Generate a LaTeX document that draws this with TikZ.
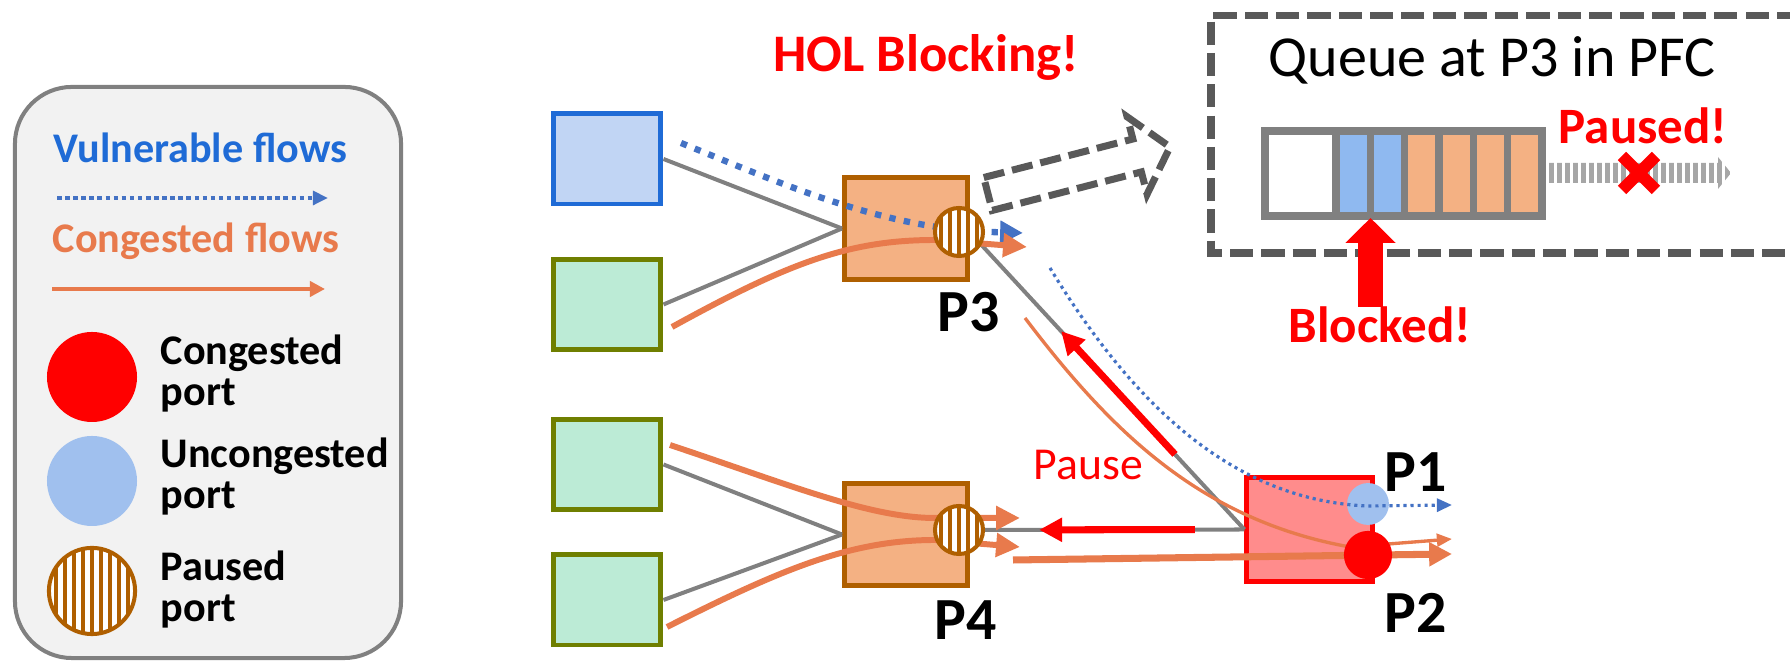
\documentclass[tikz,border=0pt]{standalone}
\usepackage{fontspec}
\setmainfont{Carlito}
\usetikzlibrary{arrows.meta,calc}

\definecolor{vblue}{RGB}{68,114,196}
\definecolor{tblue}{RGB}{31,107,214}
\definecolor{flow}{RGB}{232,122,76}
\definecolor{hostblue}{RGB}{193,213,244}
\definecolor{hostgreen}{RGB}{188,235,214}
\definecolor{olive}{RGB}{111,127,0}
\definecolor{swfill}{RGB}{244,177,131}
\definecolor{swedge}{RGB}{175,95,0}
\definecolor{hotfill}{RGB}{255,140,140}
\definecolor{portblue}{RGB}{160,192,238}
\definecolor{linkgray}{RGB}{128,128,128}
\definecolor{dashgray}{RGB}{89,89,89}
\definecolor{legendbg}{RGB}{242,242,242}
\definecolor{cellblue}{RGB}{143,185,240}
\definecolor{stripegray}{RGB}{166,166,166}

\begin{document}
\begin{tikzpicture}[x=0.01cm,y=-0.01cm,
  host/.style={draw, line width=1.42pt, minimum width=30.7pt, minimum height=25.6pt, inner sep=0pt},
  bluehost/.style={host, draw=tblue, fill=hostblue},
  greenhost/.style={host, draw=olive, fill=hostgreen},
  switchbox/.style={draw=swedge, fill=swfill, line width=1.42pt, minimum width=35pt, minimum height=29pt, inner sep=0pt},
  hotswitch/.style={draw=red, fill=hotfill, line width=1.42pt, minimum width=35.6pt, minimum height=29.3pt, inner sep=0pt},
  pausedport/.style={circle, draw=swedge, fill=white, line width=1.14pt, minimum size=#1, inner sep=0pt,
    path picture={\foreach \k in {-6,...,6}{\draw[swedge, line width=1.1pt]
      ([xshift=\k*2.56pt]path picture bounding box.north) -- ([xshift=\k*2.56pt]path picture bounding box.south);}}},
  dotport/.style={circle, fill=#1, minimum size=25.6pt, inner sep=0pt},
  link/.style={draw=linkgray, line width=1.14pt},
  vflow/.style={vblue, line width=1.8pt, dash pattern=on 1.8pt off 2.4pt, -{Triangle[length=6.5pt,width=6.3pt]}},
  vthin/.style={vblue, line width=0.9pt, dash pattern=on 0.9pt off 1.1pt, -{Triangle[length=4.3pt,width=3.7pt]}},
  cflow/.style={flow, line width=1.7pt, -{Triangle[length=6.8pt,width=6.5pt]}},
  cthick/.style={flow, line width=2pt, -{Triangle[length=6.5pt,width=6.5pt]}},
  cthin/.style={flow, line width=0.95pt, -{Triangle[length=4.3pt,width=3.6pt]}},
  pausearrow/.style={red, line width=2pt, -{Triangle[length=6.5pt,width=6.5pt]}},
  legendtext/.style={anchor=base west, inner sep=0pt, font=\fontsize{12pt}{14pt}\selectfont\bfseries},
  portlabel/.style={anchor=base, inner sep=0pt, font=\fontsize{17pt}{20pt}\selectfont\bfseries},
  alert/.style={inner sep=0pt, text=red, font=\fontsize{14.5pt}{17pt}\selectfont\bfseries},
  dashframe/.style={dashgray, line width=2pt, dash pattern=on 6.6pt off 2.3pt}
]
\useasboundingbox (0,0) rectangle (1790,662);

% ---------- legend ----------
\node[draw=linkgray, fill=legendbg, rounded corners=16.2pt, line width=1.14pt,
      minimum width=109.8pt, minimum height=162.4pt, inner sep=0pt] (legend) at (208,372.5) {};
\node[legendtext, text=tblue] (lvul) at (53,163) {Vulnerable flows};
\coordinate (lv1) at (57,198); \coordinate (lv2) at (328,198);
\draw[vblue, line width=1.3pt, dash pattern=on 1.3pt off 1pt, -{Triangle[length=4.3pt,width=3.9pt]}] (lv1) -- (lv2);
\node[legendtext, text=flow] (lcon) at (52,253) {Congested flows};
\coordinate (lc1) at (52,289); \coordinate (lc2) at (325,289);
\draw[flow, line width=1.14pt, -{Triangle[length=4.3pt,width=4.3pt]}] (lc1) -- (lc2);
\node[dotport=red] (lred) at (92,377) {};
\node[legendtext] (lt1a) at (160,365) {Congested};
\node[legendtext] (lt1b) at (160,406) {port};
\node[dotport=portblue] (lblue) at (92,481) {};
\node[legendtext] (lt2a) at (160,468) {Uncongested};
\node[legendtext] (lt2b) at (160,509) {port};
\node[pausedport=24.5pt] (lpause) at (92,591) {};
\node[legendtext] (lt3a) at (160,581) {Paused};
\node[legendtext] (lt3b) at (160,622) {port};

% ---------- hosts and switches ----------
\node[bluehost] (bh) at (607,159) {};
\node[greenhost] (g1) at (607,304.5) {};
\node[greenhost] (g2) at (607,464.5) {};
\node[greenhost] (g3) at (607,600) {};
\node[switchbox] (s3) at (906,228.5) {};
\node[switchbox] (s4) at (906,534.5) {};
\node[hotswitch] (R) at (1309.5,529.5) {};
\coordinate (p3c) at (959,232);
\coordinate (p4c) at (959,530);

% links
\draw[link] (bh.east) -- (s3.west);
\draw[link] (g1.east) -- (s3.west);
\draw[link] (g2.east) -- (s4.west);
\draw[link] (g3.east) -- (s4.west);
\draw[link] ($(p3c)+(22.5,13)$) coordinate (p3out) -- (R.west);
\draw[link] (p4c) -- (R.west);

% pause frames travelling back upstream
\draw[pausearrow] ($(p3out)!0.736!(R.west)$) -- ($(p3out)!0.303!(R.west)$);
\draw[pausearrow] ($(p4c)!0.826!(R.west)$) -- ($(p4c)!0.281!(R.west)$);
\node[anchor=base west, inner sep=0pt, text=red, font=\fontsize{13pt}{15pt}\selectfont] (pause) at (1033,480) {Pause};

% uncongested port P1 sits below the flow
\node[circle, fill=portblue, minimum size=11.9pt, inner sep=0pt] (p1) at (1368,504) {};

% flows through P3
\coordinate (v1) at (681,143); \coordinate (v1end) at (1023,233);
\draw[vflow] (v1) .. controls (780,183) and (880,228) .. (990,232) -- (v1end);
\coordinate (c1) at (672,327); \coordinate (c1end) at (1027,247);
\draw[cflow] (c1) .. controls (790,262) and (850,240) .. (935,240) -- (c1end);

% flows through P4
\coordinate (c2) at (670,445); \coordinate (c2end) at (1020,518);
\draw[cflow] (c2) .. controls (790,485) and (870,518) .. (935,518) -- (c2end);
\coordinate (c3) at (667,627); \coordinate (c3end) at (1020,547);
\draw[cflow] (c3) .. controls (780,570) and (850,540) .. (935,540) -- (c3end);

% flows into the congested switch
\coordinate (v2) at (1050,268); \coordinate (v2end) at (1452,505);
\draw[vthin] (v2) .. controls (1130,400) and (1230,500) .. (1367,506) -- (v2end);
\coordinate (c4) at (1025,318); \coordinate (c4end) at (1452,539);
\draw[cthin] (c4) .. controls (1110,430) and (1200,520) .. (1350,547) -- (c4end);
\coordinate (c5) at (1013,560); \coordinate (c5end) at (1452,554);
\draw[cthick] (c5) -- (c5end);

% ports
\node[circle, fill=red, minimum size=13.7pt, inner sep=0pt] (p2) at (1368,555) {};
\node[pausedport=13.66pt] (p3) at (p3c) {};
\node[pausedport=13.66pt] (p4) at (p4c) {};

\node[portlabel] (lp3) at (969,332) {P3};
\node[portlabel] (lp4) at (966,640) {P4};
\node[portlabel] (lp1) at (1416,492) {P1};
\node[portlabel] (lp2) at (1416,633) {P2};

\node[anchor=base, inner sep=0pt, text=red, font=\fontsize{15pt}{18pt}\selectfont\bfseries] (hol) at (926,72) {HOL Blocking!};

% ---------- zoomed view of the queue ----------
\draw[dashgray, line width=2pt, dash pattern=on 6pt off 2.3pt, fill=white]
  (983.75,177.54) -- (1132.85,139.04) -- (1127.1,116.8) -- (1170,147)
  -- (1147.1,194.2) -- (1141.35,171.96) -- (992.25,210.46) -- cycle;
\draw[dashframe] (1800,16) -- (1211,16) -- (1211,253) -- (1800,253);
\node[anchor=base west, inner sep=0pt, font=\fontsize{16.5pt}{19pt}\selectfont] (qtitle) at (1268,77) {Queue at P3 in PFC};

\fill[white] (1265,131) rectangle (1336,216);
\foreach \i/\c in {0/cellblue,1/cellblue,2/swfill,3/swfill,4/swfill,5/swfill}
  \fill[\c] ({1336+34.33*\i},131) rectangle ({1336+34.33*(\i+1)},216);
\draw[linkgray, line width=2.28pt] (1265,131) rectangle (1542,216);
\foreach \i in {0,...,5}
  \draw[linkgray, line width=2pt] ({1336+34.33*\i},131) -- ({1336+34.33*\i},216);

% paused output of the queue
\begin{scope}
  \clip (1549,163) -- (1718,163) -- (1718,157) -- (1731,173) -- (1718,189) -- (1718,183) -- (1549,183) -- cycle;
  \foreach \x in {0,...,23} \fill[stripegray] ({1549+8*\x},150) rectangle ++(4.5,50);
\end{scope}
\draw[red, line width=3.4pt] (1622,156) -- (1656,190) (1622,190) -- (1656,156);
\node[alert, anchor=base west] (paused) at (1558,144) {Paused!};

\node[alert, anchor=base] (blk) at (1380,343) {Blocked!};
\coordinate (qcell) at (1370.5,218);
\draw[red, line width=7.1pt, -{Triangle[length=7.1pt,width=13.9pt]}] (blk.north -| qcell) -- (qcell);
\end{tikzpicture}
\end{document}
